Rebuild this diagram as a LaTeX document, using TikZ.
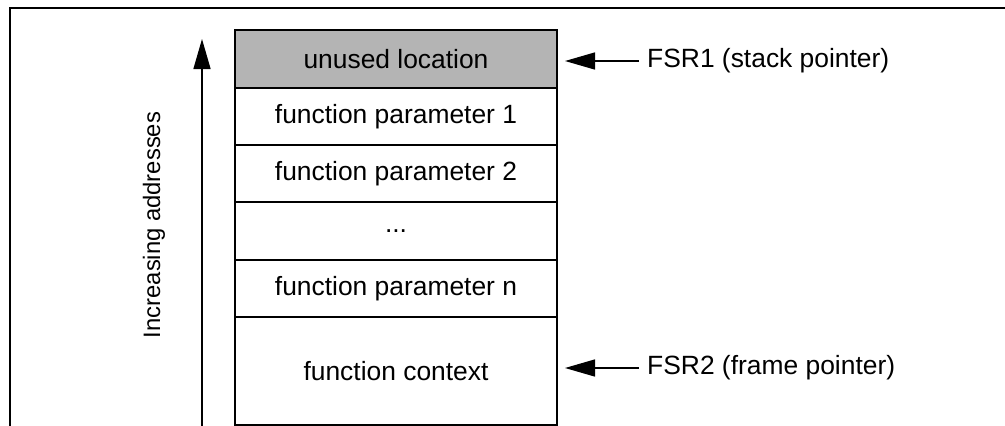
\documentclass[tikz,border=0pt]{standalone}
\usepackage{fontspec}
\setmainfont{Liberation Sans}
\usetikzlibrary{arrows.meta}

\tikzset{
  cell/.style={draw, line width=1.4pt, minimum width=322pt, inner sep=0pt, outer sep=0pt},
  ptr/.style={line width=1.4pt, -{Triangle[length=30pt,width=17pt]}},
  ptrlabel/.style={anchor=west, inner sep=8pt}
}

\begin{document}
\begin{tikzpicture}[x=1pt, y=-1pt, font=\fontsize{26.4}{30}\selectfont]
  \useasboundingbox (0,0) rectangle (1005,426);
  % frame
  \draw [line width=2.6pt] (10,430) -- (10,8) -- (1010,8);
  % stack cells
  \node [cell, fill={rgb,255:red,180;green,180;blue,180}, minimum height=58pt] at (396,59) (r0) {unused location};
  \node [cell, minimum height=57pt] at (396,116.5) (r1) {function parameter 1};
  \node [cell, minimum height=57pt] at (396,173.5) (r2) {function parameter 2};
  \node [cell, minimum height=58pt] at (396,231) (r3) {...};
  \node [cell, minimum height=57pt] at (396,288.5) (r4) {function parameter n};
  \node [cell, minimum height=108pt] at (396,371) (r5) {function context};
  % address direction
  \coordinate (a0) at (202,430);
  \coordinate (a1) at (202,39);
  \draw [ptr] (a0) -- (a1);
  \node [rotate=90, font=\fontsize{23.8}{28}\selectfont] at (154,225) (inc) {Increasing addresses};
  % pointers
  \node [ptrlabel] at (639,61) (fsr1) {FSR1 (stack pointer)};
  \node [ptrlabel] at (639,368) (fsr2) {FSR2 (frame pointer)};
  \draw [ptr, shorten >=8pt] (fsr1.west) -- (fsr1.west -| r0.east);
  \draw [ptr, shorten >=8pt] (fsr2.west) -- (fsr2.west -| r5.east);
\end{tikzpicture}
\end{document}
